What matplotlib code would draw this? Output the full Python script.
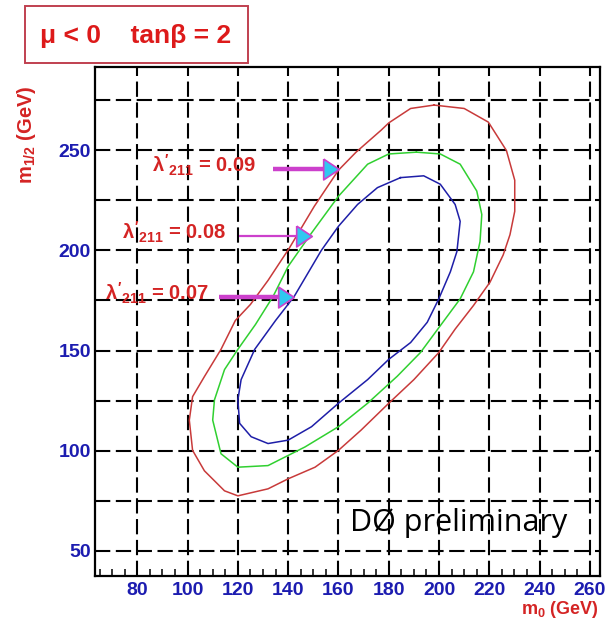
import numpy as np
import matplotlib
matplotlib.use("Agg")
from matplotlib import pyplot as plt
from matplotlib.patches import Rectangle

# contour points (m0, m1/2) in GeV for each coupling value
red_m0 = [198, 210, 219.6, 226.8, 230.1, 230.1, 228.2, 225.5, 220.3, 213.7, 206.4, 199.9, 190, 180, 169,
          160, 150.7, 140, 132, 120, 114.7, 106.7, 102, 100.7, 102, 106.7, 113.3, 119, 125, 132, 140.4,
          150.4, 160, 167, 177, 180, 188.7, 198]
red_m12 = [272.5, 270.8, 264, 249.8, 235, 219.5, 207.8, 197.7, 184.2, 172.5, 160.7, 149, 135.5, 123.7, 110.3,
           100.2, 91.8, 86, 81, 77.5, 80, 90, 100.2, 115.3, 127, 137, 150.6, 165, 173, 185, 201,
           222, 240, 249, 260, 263.6, 270.8, 272.5]

green_m0 = [191, 200.5, 208.4, 215, 217, 216.3, 213.7, 208.4, 200.5, 192.6, 183.4, 171.6, 160, 146.7, 132,
            120, 113.3, 110, 110.7, 114.7, 120, 127, 134, 140, 149.2, 160, 171.6, 180, 191]
green_m12 = [249, 248.1, 243, 229.6, 217.9, 204.4, 189.3, 175.8, 162.4, 149, 137.2, 123.7, 112, 101.9, 92.6,
             91.8, 98.5, 115.3, 125.4, 140.5, 150.6, 163, 177, 192, 208.5, 227, 243, 248.1, 249]

blue_m0 = [184.7, 193.9, 200.5, 206.4, 208.4, 207.1, 204.5, 199.9, 195.3, 188.7, 180, 171.6, 160, 149.3, 140,
           132, 125.3, 120.7, 120, 121.3, 126.7, 135, 142.4, 153.2, 160, 167.6, 175.5, 184.7]
blue_m12 = [236.3, 237.2, 233, 222.9, 214.5, 199.4, 189.3, 175.8, 164.1, 154, 145.6, 135.5, 123.7, 112, 105.3,
            103.6, 107, 113.7, 125.4, 135.5, 150.6, 165, 177, 200, 212, 222.9, 231.3, 236.3]

# arrows pointing at each contour
lam_vals = [0.09, 0.08, 0.07]
arrow_y = [240.5, 207, 176.5]
arrow_start = [134, 120.4, 112.4]
arrow_tip = [160, 149.2, 142]
arrow_lw = [3.2, 1.6, 3.2]
label_right = [127.5, 115.5, 108.5]

x_ticks = [80, 100, 120, 140, 160, 180, 200, 220, 240, 260]
y_grid = [50, 75, 100, 125, 150, 175, 200, 225, 250, 275]
y_labels = [50, 100, 150, 200, 250]

plt.rcParams['lines.scale_dashes'] = False
plt.rcParams['mathtext.fontset'] = 'custom'
plt.rcParams['mathtext.rm'] = 'Liberation Sans:bold'
plt.rcParams['mathtext.bf'] = 'Liberation Sans:bold'
plt.rcParams['mathtext.it'] = 'Liberation Sans:bold'

tick_font = ['Liberation Sans', 'DejaVu Sans']
red_txt = '#d42424'
blue_txt = '#1c1cb0'

fig = plt.figure(figsize=(6.07, 6.21), dpi=100)
ax = fig.add_axes([95/607, 45/621, 505/607, 509/621])
ax.set_xlim(63.2, 264)
ax.set_ylim(37.5, 291.5)

# dashed grid
for x in x_ticks:
    ax.axvline(x, color='black', lw=1.5, dashes=(11, 4), zorder=3)
for y in y_grid:
    ax.axhline(y, color='black', lw=1.5, dashes=(11, 4), zorder=3)

# exclusion contours
ax.plot(red_m0, red_m12, color='#c83a3a', lw=1.1, zorder=4)
ax.plot(green_m0, green_m12, color='#30d030', lw=1.1, zorder=4)
ax.plot(blue_m0, blue_m12, color='#1e1ea8', lw=1.1, zorder=4)

# labels and arrows
head = [(-0.75, 1), (0.75, 0), (-0.75, -1), (-0.75, 1)]
for lam, y, x0, xt, lw, xr in zip(lam_vals, arrow_y, arrow_start, arrow_tip, arrow_lw, label_right):
    ax.plot([x0, xt - 5], [y, y], color='#cc40cc', lw=lw, solid_capstyle='butt', zorder=5)
    ax.plot([xt - 3], [y], marker=head, ms=15, mfc='#30c8f0', mec='#cc40cc', mew=1.2, zorder=6)
    ax.text(xr, y - 1.5, r"$\lambda'_{211}$ = %.2f" % lam, color=red_txt, fontsize=14.5,
            fontweight='bold', family=tick_font, ha='right', va='baseline', zorder=6)

ax.text(164.5, 60, "DØ preliminary", fontsize=22, family=['Open Sans', 'DejaVu Sans'],
        color='black', va='baseline', ha='left', zorder=2)

# axes styling
ax.set_xticks(x_ticks)
ax.set_xticks(np.arange(65, 264, 5), minor=True)
ax.set_yticks(y_grid)
ax.set_yticklabels([str(v) if v in y_labels else '' for v in y_grid])
ax.tick_params(axis='both', which='major', direction='in', length=9, width=1.3, colors='black')
ax.tick_params(axis='x', which='minor', direction='in', length=5, width=1.1)
ax.tick_params(axis='x', which='major', pad=4)
ax.tick_params(axis='y', which='major', pad=3)
for lbl in ax.get_xticklabels() + ax.get_yticklabels():
    lbl.set_family(tick_font)
    lbl.set_fontweight('bold')
    lbl.set_fontsize(14)
    lbl.set_color(blue_txt)
for sp in ax.spines.values():
    sp.set_linewidth(1.6)

fig.text(599/607, 1 - 610/621, r"m$_0$ (GeV)", color=red_txt, fontsize=13, fontweight='bold',
         family=tick_font, ha='right', va='center')
fig.text(27/607, 1 - 135/621, r"m$_{1/2}$ (GeV)", color=red_txt, fontsize=14.5, fontweight='bold',
         family=tick_font, ha='center', va='center', rotation=90)

# title box
fig.patches.append(Rectangle((25/607, 1 - 63/621), 223/607, 57/621, transform=fig.transFigure,
                             fill=False, ec='#c04050', lw=1.4))
fig.text(136/607, 1 - 36/621, "μ < 0    tanβ = 2", color='#dd1a1a', fontsize=19, fontweight='bold',
         family=['Liberation Sans', 'DejaVu Sans'], ha='center', va='center')

fig.savefig('out.png', dpi=100)
